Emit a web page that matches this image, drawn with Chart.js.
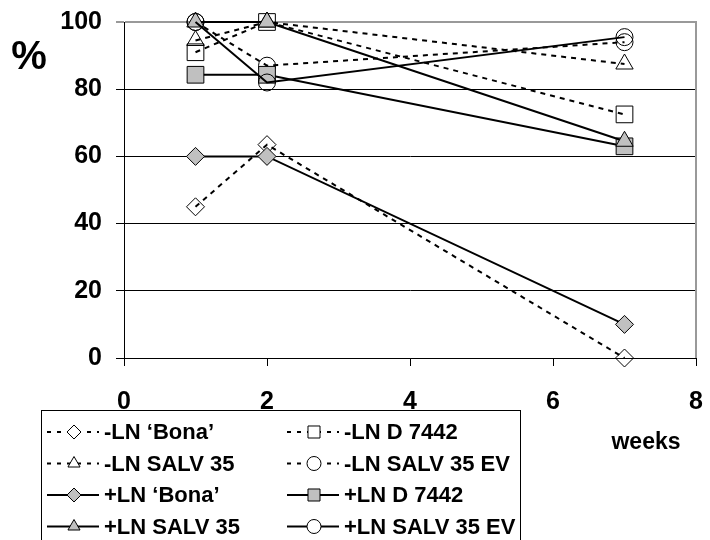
<!DOCTYPE html>
<html>
<head>
<meta charset="utf-8">
<script src="https://cdn.jsdelivr.net/npm/chart.js@4.4.1/dist/chart.umd.min.js"></script>
<style>
  html, body { margin: 0; padding: 0; background: #fff; }
  #wrap { width: 710px; height: 540px; overflow: hidden; }
</style>
</head>
<body>
<div id="wrap"><canvas id="c" width="710" height="540"></canvas></div>
<script>
// ---- data ----
const weeks = [1, 2, 7];
const xTicks = [0, 2, 4, 6, 8];
const yTicks = [0, 20, 40, 60, 80, 100];
const seriesNames = [
  "-LN \u2018Bona\u2019", "-LN D 7442", "-LN SALV 35", "-LN SALV 35 EV",
  "+LN \u2018Bona\u2019", "+LN D 7442", "+LN SALV 35", "+LN SALV 35 EV"
];
const negBona    = [45, 63.5, 0];
const negD7442   = [91, 100, 72.5];
const negSALV35  = [94.5, 100, 87.5];
const negSALV35EV= [100, 87, 94];
const posBona    = [60, 60, 10];
const posD7442   = [84.3, 84.3, 63];
const posSALV35  = [100, 100, 64.5];
const posSALV35EV= [100, 82, 95.5];

const seriesValues = [negBona, negD7442, negSALV35, negSALV35EV, posBona, posD7442, posSALV35, posSALV35EV];

// ---- styles ----
const GREY = '#C0C0C0';
const CLEAR = 'rgba(0,0,0,0)';
const styles = [
  { ps: 'rectRot',  r: 9,   fill: CLEAR, dash: [5, 5] },
  { ps: 'rect',     r: 11.8,fill: CLEAR, dash: [5, 5] },
  { ps: 'triangle', r: 10,  fill: CLEAR, dash: [5, 5] },
  { ps: 'circle',   r: 8.5, fill: CLEAR, dash: [5, 5] },
  { ps: 'rectRot',  r: 9,   fill: GREY,  dash: [] },
  { ps: 'rect',     r: 11.8,fill: GREY,  dash: [] },
  { ps: 'triangle', r: 10,  fill: GREY,  dash: [] },
  { ps: 'circle',   r: 8.5, fill: CLEAR, dash: [] }
];

const datasets = seriesValues.map((vals, i) => ({
  label: seriesNames[i],
  data: weeks.map((w, j) => ({ x: w, y: vals[j] })),
  borderColor: '#000',
  borderWidth: 2,
  borderDash: styles[i].dash,
  pointStyle: styles[i].ps,
  pointRadius: styles[i].r,
  pointHoverRadius: styles[i].r,
  pointBackgroundColor: styles[i].fill,
  pointBorderColor: '#000',
  pointBorderWidth: 1,
  fill: false,
  tension: 0,
  clip: false,
  order: 8 - i
}));

const FONT = '"Liberation Sans", Arial, sans-serif';

const extras = {
  id: 'extras',
  afterDraw(chart) {
    const ctx = chart.ctx;
    const a = chart.chartArea;
    ctx.save();
    // grey right border of plot area
    ctx.strokeStyle = '#999';
    ctx.lineWidth = 2;
    ctx.beginPath();
    ctx.moveTo(a.right, a.top - 1);
    ctx.lineTo(a.right, a.bottom);
    ctx.stroke();

    // "%" label
    ctx.fillStyle = '#000';
    ctx.font = 'bold 40px ' + FONT;
    ctx.textAlign = 'center';
    ctx.textBaseline = 'middle';
    ctx.fillText('%', 29, 58);

    // "weeks"
    ctx.font = 'bold 23px ' + FONT;
    ctx.fillText('weeks', 646, 443);

    // legend box
    ctx.strokeStyle = '#000';
    ctx.lineWidth = 1;
    ctx.strokeRect(41.5, 410.5, 479, 140);

    const rowsY = [432, 463.5, 495, 526.5];
    const colsX = [46, 286];
    ctx.font = 'bold 22px ' + FONT;
    ctx.textAlign = 'left';
    ctx.textBaseline = 'middle';
    datasets.forEach((ds, i) => {
      const row = Math.floor(i / 2);
      const col = i % 2;
      const x0 = colsX[col];
      const y = rowsY[row];
      ctx.strokeStyle = '#000';
      ctx.lineWidth = 2;
      ctx.setLineDash(ds.borderDash.length ? [4, 6] : []);
      ctx.beginPath();
      ctx.moveTo(x0 + 1, y);
      ctx.lineTo(x0 + 53, y);
      ctx.stroke();
      ctx.setLineDash([]);
      ctx.fillStyle = ds.pointBackgroundColor === CLEAR ? '#fff' : ds.pointBackgroundColor;
      ctx.strokeStyle = '#000';
      ctx.lineWidth = 1;
      Chart.helpers.drawPoint(ctx, {
        pointStyle: ds.pointStyle,
        radius: ds.pointStyle === 'rect' ? 8.5 : 7,
        rotation: 0,
        borderWidth: 1
      }, x0 + 28, y);
      ctx.fillStyle = '#000';
      ctx.fillText(ds.label, x0 + 58, y + 1);
    });
    ctx.restore();
  }
};

new Chart(document.getElementById('c'), {
  type: 'line',
  data: { datasets },
  options: {
    responsive: false,
    devicePixelRatio: 1,
    animation: false,
    layout: { autoPadding: false, padding: { left: 0, top: 22, right: 14, bottom: 0 } },
    plugins: { legend: { display: false }, tooltip: { enabled: false } },
    scales: {
      x: {
        type: 'linear',
        min: 0, max: 8,
        afterBuildTicks: s => { s.ticks = xTicks.map(v => ({ value: v })); },
        afterFit: s => { s.height = 182; s.paddingLeft = 0; s.paddingRight = 0; },
        ticks: { color: '#000', font: { family: FONT, size: 25, weight: 'bold' }, padding: 21, maxRotation: 0 },
        grid: { drawOnChartArea: false, drawTicks: true, tickLength: 8, color: '#000', lineWidth: 1 },
        border: { display: true, color: '#000', width: 1 }
      },
      y: {
        type: 'linear',
        min: 0, max: 100,
        afterBuildTicks: s => { s.ticks = yTicks.map(v => ({ value: v })); },
        afterFit: s => { s.width = 124; s.paddingTop = 0; s.paddingBottom = 0; },
        ticks: { color: '#000', font: { family: FONT, size: 25, weight: 'bold' }, padding: 14 },
        grid: {
          drawTicks: true, tickLength: 8,
          color: c => (c.tick && c.tick.value === 100) ? '#999' : '#000',
          lineWidth: c => (c.tick && c.tick.value === 100) ? 2 : 1
        },
        border: { display: true, color: '#000', width: 1 }
      }
    }
  },
  plugins: [extras]
});
</script>
</body>
</html>
